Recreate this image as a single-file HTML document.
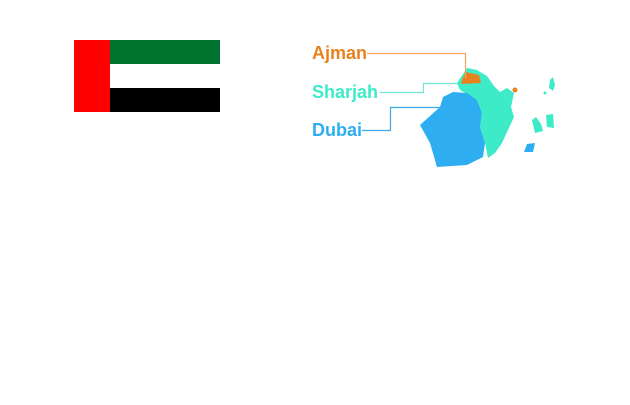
<!DOCTYPE html>
<html><head><style>
body{margin:0;background:#fff;width:630px;height:400px;overflow:hidden}
</style></head><body>
<svg width="630" height="400" xmlns="http://www.w3.org/2000/svg">
<rect x="110" y="40" width="110" height="24" fill="#00732f"/>
<rect x="110" y="64" width="110" height="24" fill="#fff"/>
<rect x="110" y="88" width="110" height="24" fill="#000"/>
<rect x="74" y="40" width="36" height="72" fill="#ff0000"/>
<polygon fill="#3debc8" points="457,83 467,68 477,70 487,76 494,86 500,92 507,88 514,93 511,107 514,117 508,130 502,143 495,153 488,158 485,143 480,127 482,113 477,100 460,90"/>
<polygon fill="#2eaef0" points="420,125 440,107 443,97 453,92 467,93 477,100 482,113 480,127 485,143 483,157 467,165 437,167 430,143"/>
<polygon fill="#e8821e" points="463,77 466,72 479,75 481,83 461,84"/>
<circle cx="515" cy="90" r="2.5" fill="#e8821e"/>
<polygon fill="#3debc8" points="550,80 553,77 555,85 553,91 549,88"/>
<polygon fill="#3debc8" points="546,115 553,114 554,128 547,127"/>
<polygon fill="#3debc8" points="532,120 536,117 541,124 543,131 535,133"/>
<polygon fill="#2eaef0" points="527,144 535,143 533,152 524,152"/>
<circle cx="545" cy="93" r="1.5" fill="#3debc8"/>
<g fill="none" stroke-width="1.2">
<polyline stroke="#eea55e" points="367,53.5 465.5,53.5 465.5,78"/>
<polyline stroke="#6fe8d0" points="380,92.5 423.5,92.5 423.5,83.5 457,83.5"/>
<polyline stroke="#3fa8e6" points="362,130.5 390.5,130.5 390.5,107.5 440,107.5"/>
</g>
<g font-family="Liberation Sans, sans-serif" font-weight="bold" font-size="18">
<text x="312" y="59" fill="#e8821e">Ajman</text>
<text x="312" y="98" fill="#3debc8">Sharjah</text>
<text x="312" y="136" fill="#2eaef0">Dubai</text>
</g>
</svg>
</body></html>
